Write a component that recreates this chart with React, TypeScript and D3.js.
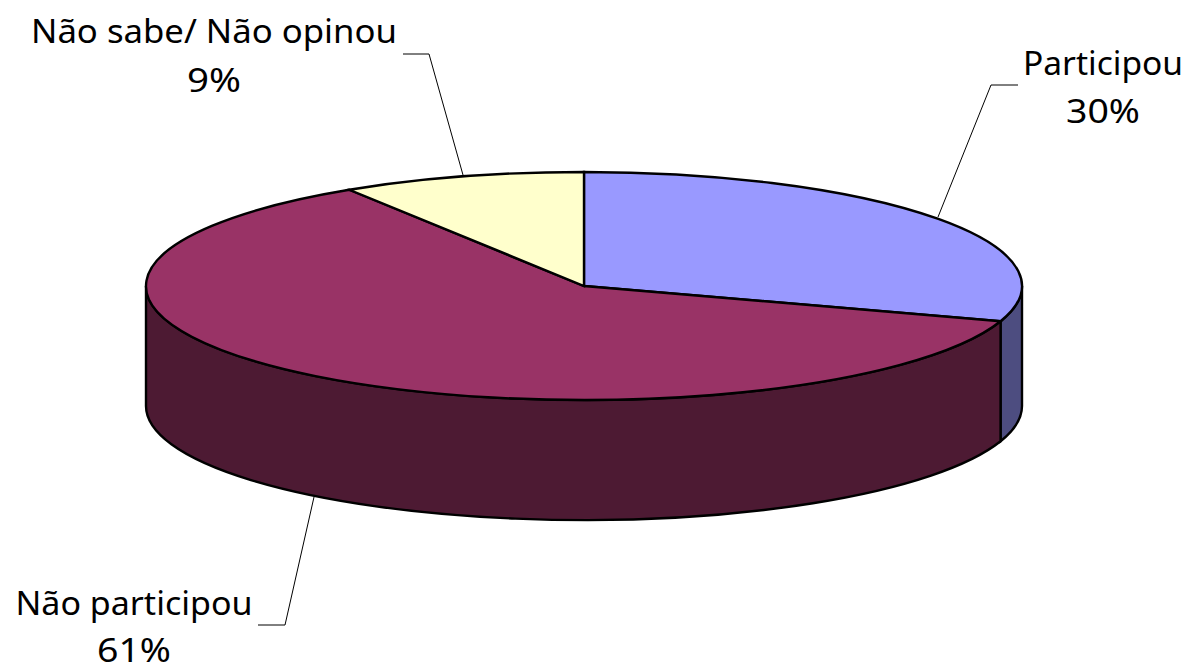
import React from "react";
import * as d3 from "d3";

const categories = ["Participou", "Não participou", "Não sabe/ Não opinou"];
const values = [30, 61, 9];
const topColors = ["#9999FF", "#993366", "#FFFFCC"];
const sideColors = ["#4D4D80", "#4D1A33", "#808066"];
const labelLines = [
  { name: categories[0], pct: "30%", x: 1103, y1: 75, y2: 123, w1: 160, w2: 74 },
  { name: categories[1], pct: "61%", x: 134, y1: 615, y2: 662, w1: 237, w2: 74 },
  { name: categories[2], pct: "9%", x: 214, y1: 43, y2: 92, w1: 366, w2: 54 },
];
const leaders = [
  [[1018, 85], [991, 85], [938, 217]],
  [[258, 625], [285, 625], [314, 497]],
  [[403, 54], [429, 54], [463, 175]],
];

const cx = 584, cy = 286, rx = 438, ry = 114, depth = 120;
const stroke = "#000";

export default function App() {
  const pie = d3.pie<number>().sort(null).value((d) => d)(values);
  const arc = d3.arc<d3.PieArcDatum<number>>().innerRadius(0).outerRadius(rx);
  const pt = (a: number, dy = 0): [number, number] => [cx + rx * Math.sin(a), cy - ry * Math.cos(a) + dy];
  const side = (a0: number, a1: number) => {
    const s = Math.max(a0, Math.PI / 2), e = Math.min(a1, (3 * Math.PI) / 2);
    if (e <= s) return null;
    const [x0, y0] = pt(s), [x1, y1] = pt(e);
    return `M${x0},${y0}A${rx},${ry} 0 0 1 ${x1},${y1}L${x1},${y1 + depth}A${rx},${ry} 0 0 0 ${x0},${y0 + depth}Z`;
  };
  const line = d3.line();
  return (
    <svg width={1191} height={667} style={{ position: "absolute", left: 0, top: 0, background: "#fff" }}>
      {pie.map((d, i) => {
        const p = side(d.startAngle, d.endAngle);
        return p ? <path key={i} d={p} fill={sideColors[i]} stroke={stroke} strokeWidth={2.4} /> : null;
      })}
      <g transform={`translate(${cx},${cy}) scale(1,${ry / rx})`}>
        {pie.map((d, i) => (
          <path key={i} d={arc(d) as string} fill={topColors[i]} stroke={stroke} strokeWidth={2.4} vectorEffect="non-scaling-stroke" />
        ))}
      </g>
      {leaders.map((l, i) => (
        <path key={i} d={line(l as [number, number][]) as string} fill="none" stroke={stroke} strokeWidth={1} />
      ))}
      <g fontFamily="'Noto Sans', 'DejaVu Sans', sans-serif" fontSize={33} fill="#000" textAnchor="middle">
        {labelLines.map((l, i) => (
          <g key={i}>
            <text x={l.x} y={l.y1} textLength={l.w1} lengthAdjust="spacingAndGlyphs">{l.name}</text>
            <text x={l.x} y={l.y2} textLength={l.w2} lengthAdjust="spacingAndGlyphs">{l.pct}</text>
          </g>
        ))}
      </g>
    </svg>
  );
}
